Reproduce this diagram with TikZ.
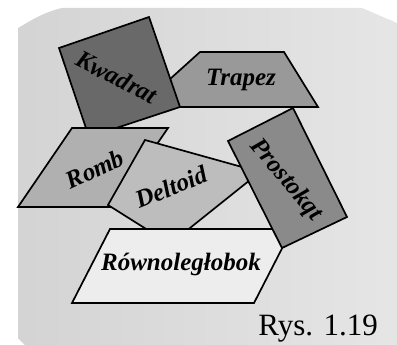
\documentclass[tikz,border=0pt]{standalone}
\usepackage{fontspec}
\setmainfont{Liberation Serif}
\begin{document}
\begin{tikzpicture}[x=1pt,y=-1pt,
  shp/.style={draw=black,line width=1.7pt,line join=miter},
  lbl/.style={font=\fontsize{25}{27}\selectfont\bfseries\itshape,inner sep=0pt}]
\useasboundingbox (0,0) rectangle (397,345);
% background
\shade[left color=black!17,right color=black!10]
  (18,28) .. controls (35,18) and (45,12) .. (62,8) -- (362,8) -- (397,23) -- (397,345) -- (25,345) -- (18,338) -- cycle;
% shapes (back to front)
\draw[shp,fill=black!40] (200,52) -- (284,52) -- (318,107) -- (139,107) -- cycle;
\draw[shp,fill=black!59] (59,48) -- (149,17) -- (180,107) -- (89,137) -- cycle;
\draw[shp,fill=black!31] (72,128) -- (168,128) -- (114,207) -- (18,207) -- cycle;
\draw[shp,fill=black!26] (145,140) -- (260,172) -- (170,244) -- (108,205) -- cycle;
\draw[shp,fill=black!7] (110,229) -- (292,229) -- (254,303) -- (72,303) -- cycle;
\draw[shp,fill=black!46] (293,108) -- (347,217) -- (282,248) -- (228,141) -- cycle;
% labels
\node[lbl,rotate=-27] (kw) at (117,77) {Kwadrat};
\node[lbl] (tr) at (241,80) {Trapez};
\node[lbl,rotate=-50] (pr) at (286,180) {Prostokqt};
\node[lbl,rotate=25] (ro) at (95,169) {Romb};
\node[lbl,rotate=22] (de) at (171,187) {Deltoid};
\node[lbl] (rw) at (181,264) {Równoległobok};
\node[font=\fontsize{31}{33}\selectfont,inner sep=0pt,anchor=base east] (rys) at (378,335) {Rys. 1.19};
\end{tikzpicture}
\end{document}
